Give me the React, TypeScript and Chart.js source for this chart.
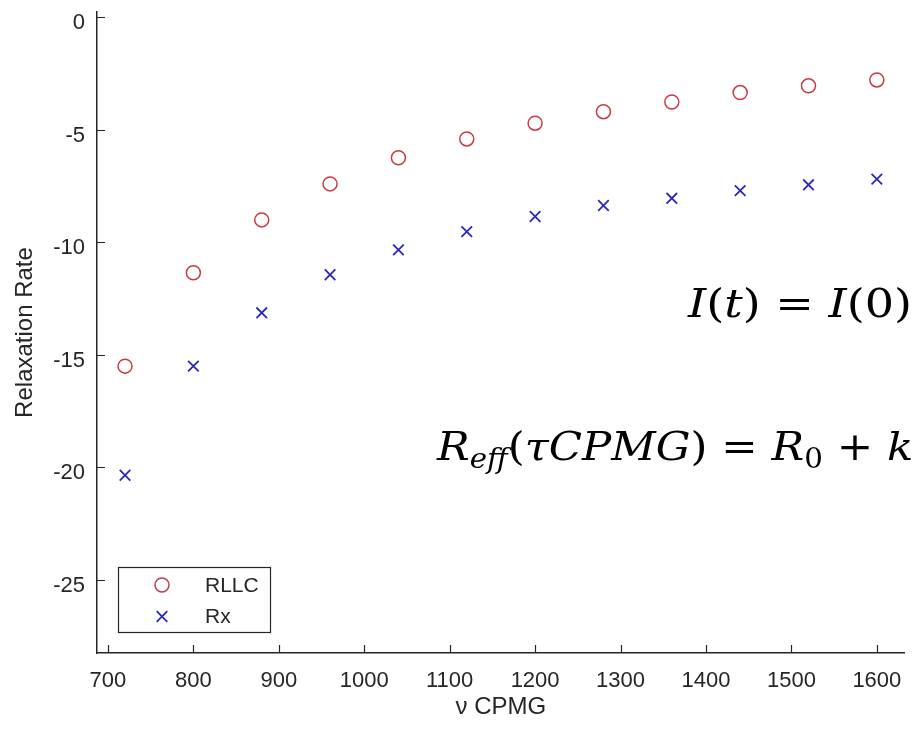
import React, { useEffect, useRef } from 'react';
import { Chart, registerables } from 'chart.js';

Chart.register(...registerables);

// ---- data ----
const nuCPMG = [720, 800, 880, 960, 1040, 1120, 1200, 1280, 1360, 1440, 1520, 1600];
const rllc = [-15.5, -11.35, -9.0, -7.4, -6.24, -5.4, -4.7, -4.19, -3.76, -3.34, -3.04, -2.78];
const rx = [-20.35, -15.5, -13.13, -11.44, -10.33, -9.52, -8.85, -8.36, -8.04, -7.7, -7.44, -7.19];
const xTicks = [700, 800, 900, 1000, 1100, 1200, 1300, 1400, 1500, 1600];
const yTicks = [0, -5, -10, -15, -20, -25];
const seriesNames = ['RLLC', 'Rx'];
const xTitle = 'ν CPMG';
const yTitle = 'Relaxation Rate';

type Seg = { t: string; it?: boolean; sub?: boolean };
const formula1: Seg[] = [
  { t: 'I', it: true }, { t: '(' }, { t: 't', it: true }, { t: ')' }, { t: ' = ' },
  { t: 'I', it: true }, { t: '(0)' },
];
const formula2: Seg[] = [
  { t: 'R', it: true }, { t: 'eff', it: true, sub: true }, { t: '(' }, { t: 'τCPMG', it: true },
  { t: ')' }, { t: ' = ' }, { t: 'R', it: true }, { t: '0', sub: true }, { t: ' + ' }, { t: 'k', it: true },
];

// ---- style ----
const AXIS = '#262626';
const RED = '#cc3a44';
const BLUE = '#2a2ab8';
const SANS = '"Liberation Sans", Arial, sans-serif';
const MATH = '"DejaVu Serif", serif';

function drawFormula(ctx: CanvasRenderingContext2D, segs: Seg[], x0: number, baseline: number, target: number, upto: number) {
  const size = 40, subSize = 27, subDrop = 8;
  const fontFor = (s: Seg) => `${s.it ? 'italic ' : ''}${s.sub ? subSize : size}px ${MATH}`;
  const widths = segs.map((s) => { ctx.font = fontFor(s); return ctx.measureText(s.t).width; });
  const natural = widths.slice(0, upto).reduce((a, b) => a + b, 0);
  const k = target / natural;
  ctx.save();
  ctx.translate(x0, baseline);
  ctx.scale(k, 1);
  ctx.fillStyle = '#000';
  ctx.textBaseline = 'alphabetic';
  ctx.textAlign = 'left';
  let x = 0;
  segs.forEach((s, i) => {
    ctx.font = fontFor(s);
    ctx.fillText(s.t, x, s.sub ? subDrop : 0);
    x += widths[i];
  });
  ctx.restore();
}

function drawMarker(ctx: CanvasRenderingContext2D, style: string, x: number, y: number, r: number, color: string, w: number) {
  ctx.save();
  ctx.strokeStyle = color;
  ctx.lineWidth = w;
  ctx.beginPath();
  if (style === 'circle') {
    ctx.arc(x, y, r, 0, Math.PI * 2);
  } else {
    const h = r * Math.SQRT1_2;
    ctx.moveTo(x - h, y - h); ctx.lineTo(x + h, y + h);
    ctx.moveTo(x - h, y + h); ctx.lineTo(x + h, y - h);
  }
  ctx.stroke();
  ctx.restore();
}

const decorPlugin = {
  id: 'decor',
  afterDraw(chart: any) {
    const ctx: CanvasRenderingContext2D = chart.ctx;
    const { left, bottom } = chart.chartArea;
    const xs = chart.scales.x, ys = chart.scales.y;
    // inward tick marks
    ctx.save();
    ctx.strokeStyle = AXIS;
    ctx.lineWidth = 1.2;
    ctx.beginPath();
    xs.ticks.forEach((t: any) => {
      const px = Math.round(xs.getPixelForValue(t.value)) + 0.5;
      ctx.moveTo(px, bottom); ctx.lineTo(px, bottom - 8);
    });
    ys.ticks.forEach((t: any) => {
      const py = Math.round(ys.getPixelForValue(t.value)) + 0.5;
      ctx.moveTo(left, py); ctx.lineTo(left + 8, py);
    });
    ctx.stroke();
    ctx.restore();

    // legend
    ctx.save();
    ctx.fillStyle = '#fff';
    ctx.fillRect(118.5, 567.5, 152, 65);
    ctx.strokeStyle = AXIS;
    ctx.lineWidth = 1.2;
    ctx.strokeRect(118.5, 567.5, 152, 65);
    chart.data.datasets.forEach((ds: any, i: number) => {
      const cy = 585 + i * 31.5;
      drawMarker(ctx, ds.pointStyle, 162, cy, ds.pointRadius, ds.borderColor, ds.borderWidth);
      ctx.fillStyle = AXIS;
      ctx.font = `21px ${SANS}`;
      ctx.textBaseline = 'middle';
      ctx.textAlign = 'left';
      ctx.fillText(ds.label, 205, cy + 1);
    });
    ctx.restore();

    // formulas
    drawFormula(ctx, formula1, 688, 317, 224, formula1.length);
    drawFormula(ctx, formula2, 437, 460, 450, formula2.length - 1);
  },
};

export default function App() {
  const ref = useRef<HTMLCanvasElement>(null);
  useEffect(() => {
    if (!ref.current) return;
    const chart = new Chart(ref.current, {
      type: 'scatter',
      data: {
        datasets: [
          {
            label: seriesNames[0],
            data: nuCPMG.map((x, i) => ({ x, y: rllc[i] })),
            pointStyle: 'circle',
            pointRadius: 7,
            pointHoverRadius: 7,
            borderWidth: 1.5,
            borderColor: RED,
            backgroundColor: 'rgba(0,0,0,0)',
          },
          {
            label: seriesNames[1],
            data: nuCPMG.map((x, i) => ({ x, y: rx[i] })),
            pointStyle: 'crossRot',
            pointRadius: 7.5,
            pointHoverRadius: 7.5,
            borderWidth: 1.8,
            borderColor: BLUE,
            backgroundColor: BLUE,
          },
        ],
      },
      options: {
        responsive: false,
        animation: false,
        events: [],
        layout: { padding: { top: 12, right: 6, left: 0, bottom: 0 } },
        plugins: { legend: { display: false }, tooltip: { enabled: false } },
        scales: {
          x: {
            type: 'linear',
            min: 687.2,
            max: 1632.6,
            afterBuildTicks: (s: any) => { s.ticks = xTicks.map((v) => ({ value: v })); },
            afterFit: (s: any) => { s.height = 80; s.paddingLeft = 0; s.paddingRight = 0; },
            grid: { display: false, drawTicks: false },
            border: { display: true, color: AXIS, width: 1.5 },
            ticks: {
              color: AXIS,
              font: { family: SANS, size: 22 },
              padding: 15,
              maxRotation: 0,
              autoSkip: false,
              callback: (v: any) => String(v),
            },
            title: {
              display: true,
              text: xTitle,
              color: AXIS,
              font: { family: SANS, size: 24 },
              padding: { top: 0, bottom: 11 },
            },
          },
          y: {
            type: 'linear',
            min: -28.25,
            max: 0.24,
            afterBuildTicks: (s: any) => { s.ticks = yTicks.map((v) => ({ value: v })); },
            afterFit: (s: any) => { s.width = 97; s.paddingTop = 0; s.paddingBottom = 0; },
            grid: { display: false, drawTicks: false },
            border: { display: true, color: AXIS, width: 1.5 },
            ticks: {
              color: AXIS,
              font: { family: SANS, size: 22 },
              padding: 12,
              labelOffset: 6,
              autoSkip: false,
              callback: (v: any) => String(v),
            },
            title: {
              display: true,
              text: yTitle,
              color: AXIS,
              font: { family: SANS, size: 24 },
              padding: { top: 11, bottom: 0 },
            },
          },
        },
      },
      plugins: [decorPlugin],
    });
    return () => chart.destroy();
  }, []);

  return (
    <div style={{ position: 'absolute', left: 0, top: 0, width: 914, height: 733, background: '#fff' }}>
      <canvas ref={ref} width={914} height={733} />
    </div>
  );
}
